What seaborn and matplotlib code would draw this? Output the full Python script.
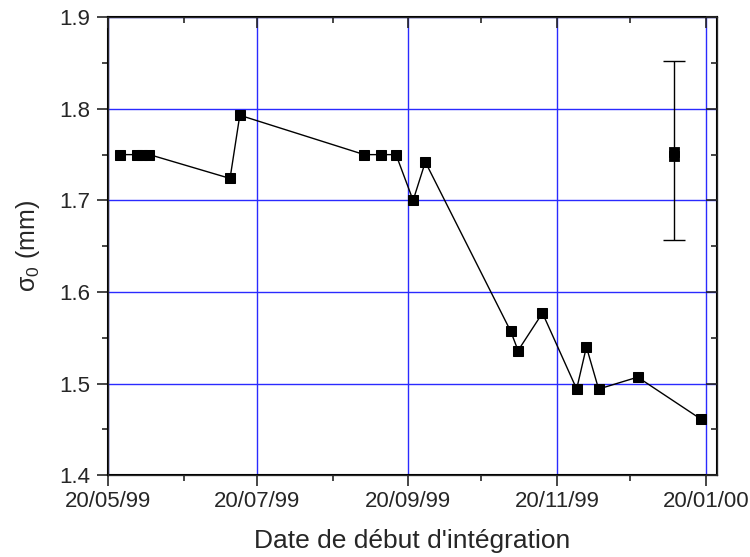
import pandas as pd
import numpy as np
import matplotlib
matplotlib.use("Agg")
import matplotlib.pyplot as plt
import matplotlib.dates as mdates
from matplotlib.ticker import MultipleLocator
import seaborn as sns

# data
dates = ["1999-05-25", "1999-06-01", "1999-06-03", "1999-06-06", "1999-07-09",
         "1999-07-13", "1999-09-02", "1999-09-09", "1999-09-15", "1999-09-22",
         "1999-09-27", "1999-11-01", "1999-11-04", "1999-11-14", "1999-11-28",
         "1999-12-02", "1999-12-07", "1999-12-23", "2000-01-18"]
sigma0 = [1.750, 1.750, 1.750, 1.750, 1.724,
          1.793, 1.750, 1.750, 1.750, 1.700,
          1.742, 1.557, 1.536, 1.577, 1.494,
          1.540, 1.494, 1.507, 1.461]

# isolated points, and the error bar drawn around them
err_dates = ["2000-01-07", "2000-01-07"]
err_sigma = [1.748, 1.753]
err_center = [1.7545]
err_size = [0.0975]

df = pd.DataFrame({"date": pd.to_datetime(dates), "sigma": sigma0})
df_err = pd.DataFrame({"date": pd.to_datetime(err_dates), "sigma": err_sigma})

sns.set_style("ticks")
plt.rcParams['font.family'] = ['Liberation Sans', 'DejaVu Sans']

fig = plt.figure(figsize=(7.5, 5.57), dpi=100)
ax = fig.add_axes([0.144, 0.147, 0.812, 0.822])

ax.grid(True, which='major', color='#2a2aff', linewidth=1.0)
ax.set_axisbelow(True)

sns.lineplot(data=df, x="date", y="sigma", ax=ax, color='black', linewidth=1.0,
             marker='s', markersize=7.5, markeredgecolor='black', estimator=None,
             sort=False)

sns.scatterplot(data=df_err, x="date", y="sigma", ax=ax, color='black', marker='s',
                s=56, edgecolor='black', zorder=4)
ax.errorbar(df_err["date"].iloc[:1], err_center, yerr=err_size,
            fmt='none', ecolor='black', capsize=8, elinewidth=1.0, capthick=1.0)

ax.set_xlim(pd.Timestamp("1999-05-20"), pd.Timestamp("2000-01-24 12:00"))
ax.set_ylim(1.4, 1.9)

ax.xaxis.set_major_locator(mdates.MonthLocator(bymonth=[1, 3, 5, 7, 9, 11], bymonthday=20))
ax.xaxis.set_minor_locator(mdates.MonthLocator(bymonthday=20))
ax.xaxis.set_major_formatter(mdates.DateFormatter('%d/%m/%y'))
ax.yaxis.set_major_locator(MultipleLocator(0.1))
ax.yaxis.set_minor_locator(MultipleLocator(0.05))
ax.yaxis.set_major_formatter(matplotlib.ticker.FormatStrFormatter('%.1f'))

ax.tick_params(which='major', direction='out', length=8, width=1.2, labelsize=16)
ax.tick_params(axis='y', which='major', pad=5)
ax.tick_params(which='minor', direction='out', length=4, width=1.2)

for s in ax.spines.values():
    s.set_linewidth(1.5)
    s.set_color('black')

# inward ticks on top and right sides
axr = ax.twinx()
axr.set_ylim(ax.get_ylim())
axr.yaxis.set_major_locator(MultipleLocator(0.1))
axr.yaxis.set_minor_locator(MultipleLocator(0.05))
axr.tick_params(which='major', direction='in', length=8, width=1.2, labelright=False)
axr.tick_params(which='minor', direction='in', length=4, width=1.2)
axt = ax.twiny()
axt.set_xlim(ax.get_xlim())
axt.xaxis.set_major_locator(mdates.MonthLocator(bymonth=[1, 3, 5, 7, 9, 11], bymonthday=20))
axt.xaxis.set_minor_locator(mdates.MonthLocator(bymonthday=20))
axt.tick_params(which='major', direction='in', length=8, width=1.2, labeltop=False)
axt.tick_params(which='minor', direction='in', length=4, width=1.2)

ax.set_xlabel("Date de début d'intégration", fontsize=19, labelpad=12)
ax.set_ylabel(r"$\mathregular{\sigma_0}$ (mm)", fontsize=18, labelpad=12)

fig.savefig("out.png", dpi=100)
